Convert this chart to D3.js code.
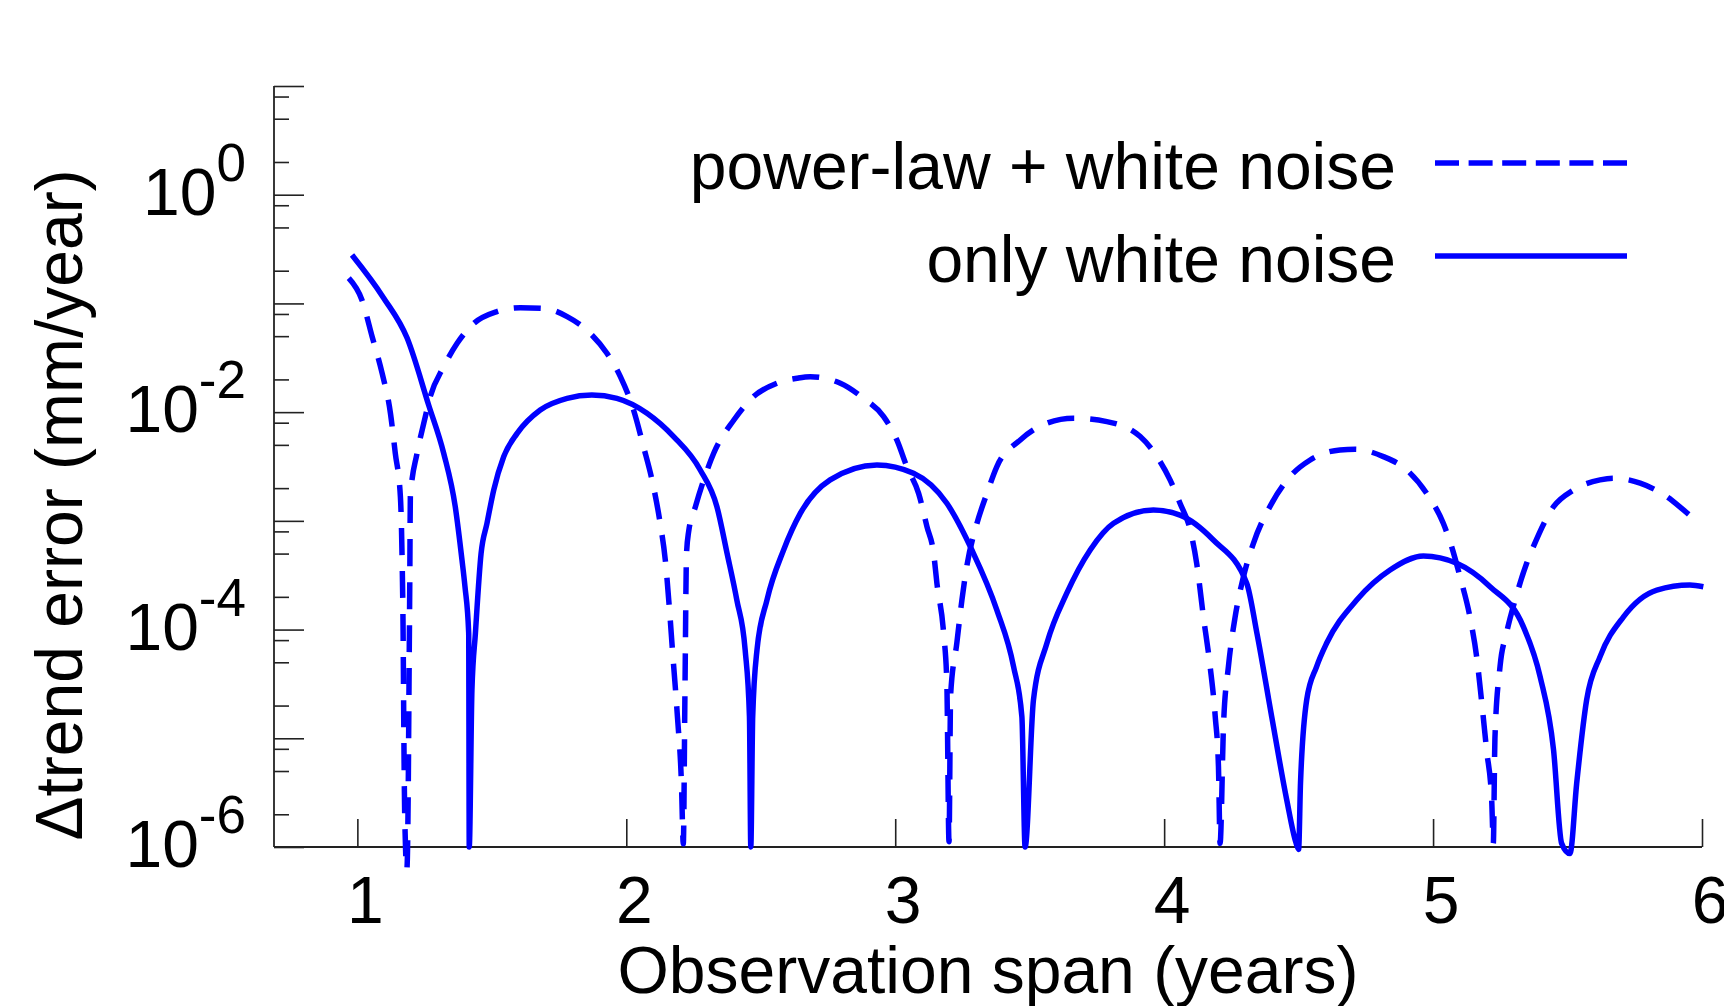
<!DOCTYPE html>
<html>
<head>
<meta charset="utf-8">
<script src="https://cdn.jsdelivr.net/npm/d3@7"></script>
<style>
  html, body { margin: 0; padding: 0; background: #fff; }
  svg { display: block; }
  text { font-family: "Liberation Sans", Arial, Helvetica, sans-serif; fill: #000; }
</style>
</head>
<body>
<svg id="chart" width="1724" height="1006"></svg>
<script>
// ---- data (x: observation span in years, y: Δtrend error in mm/year) ----
const seriesNames = ["power-law + white noise", "only white noise"];

const plwX = [0.968, 1.017, 1.055, 1.092, 1.123, 1.141, 1.160, 1.166, 1.170, 1.173, 1.176, 1.184, 1.189, 1.192, 1.195, 1.197,
  1.222, 1.247, 1.271, 1.321, 1.371, 1.433, 1.519, 1.606, 1.693, 1.780, 1.866, 1.928, 1.978, 2.027, 2.064, 2.101, 2.126, 2.145,
  2.160, 2.172, 2.190, 2.205, 2.212, 2.218, 2.224, 2.232, 2.257, 2.288, 2.325, 2.400, 2.473, 2.560, 2.635, 2.684, 2.796, 2.882,
  2.957, 3.006, 3.043, 3.087, 3.118, 3.143, 3.155, 3.180, 3.192, 3.200, 3.206, 3.229, 3.248, 3.266, 3.304, 3.341, 3.378, 3.465,
  3.564, 3.663, 3.787, 3.911, 3.973, 4.022, 4.059, 4.097, 4.121, 4.146, 4.171, 4.190, 4.202, 4.208, 4.221, 4.239, 4.264, 4.295,
  4.332, 4.400, 4.468, 4.543, 4.654, 4.710, 4.815, 4.902, 4.976, 5.038, 5.069, 5.100, 5.137, 5.162, 5.180, 5.199, 5.218, 5.224,
  5.230, 5.249, 5.273, 5.305, 5.348, 5.373, 5.448, 5.522, 5.621, 5.671, 5.770, 5.869, 5.931, 5.990];
const plwY = [0.1706, 0.1076, 0.0494, 0.0228, 9.77e-3, 4.19e-3, 1.67e-3, 5.0e-4, 1.0e-4, 1.0e-5, 2.0e-6, 6.2e-7, 3.0e-6, 3.0e-5, 3.0e-4, 1.67e-3,
  4.19e-3, 7.91e-3, 0.0139, 0.0262, 0.043, 0.0655, 0.0841, 0.0914, 0.0902, 0.0757, 0.0531, 0.0348, 0.0212, 0.01047, 4.82e-3, 2.07e-3, 9.5e-4, 4.37e-4,
  1.6e-4, 6.3e-5, 1.6e-5, 3.9e-6, 1.07e-6, 2.5e-5, 5.0e-4, 8.0e-4, 1.35e-3, 2.38e-3, 4.19e-3, 8.47e-3, 0.0139, 0.01845, 0.0205, 0.0212, 0.01845, 0.0134,
  9.1e-3, 5.55e-3, 3.16e-3, 1.79e-3, 8.85e-4, 5.0e-4, 2.67e-4, 9.25e-5, 3.2e-5, 1.12e-6, 2.5e-5, 7.48e-5, 1.87e-4, 3.8e-4, 9.5e-4, 1.79e-3, 3.16e-3, 5.55e-3,
  7.91e-3, 8.79e-3, 8.18e-3, 5.96e-3, 3.9e-3, 2.38e-3, 1.45e-3, 8.24e-4, 4.07e-4, 1.31e-4, 4.57e-5, 1.58e-5, 5.47e-6, 1.08e-6, 1.37e-5, 4.57e-5, 1.31e-4, 3.07e-4,
  6.22e-4, 1.45e-3, 2.55e-3, 3.63e-3, 4.49e-3, 4.55e-3, 3.9e-3, 2.94e-3, 1.79e-3, 9.5e-4, 5.79e-4, 3.07e-4, 1.31e-4, 5.64e-5, 2.25e-5, 7.8e-6, 2.7e-6, 1.08e-6,
  1.0e-5, 4.57e-5, 9.25e-5, 1.87e-4, 4.07e-4, 5.79e-4, 1.35e-3, 1.92e-3, 2.38e-3, 2.47e-3, 2.22e-3, 1.67e-3, 1.26e-3, 9.5e-4];

const wnX = [0.980, 1.097, 1.185, 1.265, 1.321, 1.364, 1.389, 1.400, 1.414, 1.416, 1.426, 1.439, 1.460, 1.482, 1.507, 1.544,
  1.594, 1.680, 1.780, 1.872, 1.965, 2.077, 2.176, 2.275, 2.337, 2.375, 2.411, 2.442, 2.458, 2.463, 2.470, 2.486, 2.523, 2.585,
  2.647, 2.758, 2.932, 3.068, 3.192, 3.285, 3.378, 3.440, 3.471, 3.483, 3.514, 3.564, 3.638, 3.725, 3.812, 3.960, 4.059, 4.183,
  4.307, 4.345, 4.400, 4.456, 4.490, 4.500, 4.507, 4.530, 4.567, 4.604, 4.716, 4.840, 4.964, 5.088, 5.212, 5.336, 5.398, 5.448,
  5.478, 5.509, 5.534, 5.571, 5.621, 5.708, 5.832, 5.955, 6.005];
const wnY = [0.279, 0.113, 0.048, 0.01164, 4.19e-3, 1.35e-3, 4.37e-4, 2.5e-4, 9.25e-5, 1.0e-6, 2.78e-5, 9.3e-5, 5.0e-4, 9.5e-4, 1.92e-3, 3.89e-3,
  6.38e-3, 0.01047, 0.0134, 0.0144, 0.0134, 9.77e-3, 5.96e-3, 2.94e-3, 1.35e-3, 5.0e-4, 1.87e-4, 6.49e-5, 1.58e-5, 1.0e-6, 1.58e-5, 6.49e-5, 1.87e-4, 5.4e-4,
  1.17e-3, 2.38e-3, 3.27e-3, 2.74e-3, 1.45e-3, 5.4e-4, 1.51e-4, 4.57e-5, 1.58e-5, 1.0e-6, 2.25e-5, 7.48e-5, 2.16e-4, 5.4e-4, 9.5e-4, 1.26e-3, 1.13e-3, 6.67e-4,
  2.67e-4, 9.25e-5, 1.58e-5, 2.7e-6, 1.1e-6, 0.95e-6, 3.85e-6, 2.25e-5, 4.57e-5, 7.48e-5, 1.87e-4, 3.53e-4, 4.75e-4, 4.07e-4, 2.48e-4, 1.06e-4, 3.69e-5, 7.8e-6,
  1.08e-6, 8.7e-7, 3.85e-6, 2.25e-5, 5.64e-5, 1.31e-4, 2.31e-4, 2.57e-4, 2.48e-4];

const xTickValues = [1, 2, 3, 4, 5, 6];
const yMajorExponents = [-6, -5, -4, -3, -2, -1, 0, 1];
const yLabelExponents = [-6, -4, -2, 0];
const yMinorMantissas = [2, 5, 8];

const xTitle = "Observation span (years)";
const yTitle = "\u0394trend error (mm/year)";

// ---- layout ----
const svg = d3.select("#chart");
const FONT = 66;
const plotLeft = 274, plotRight = 1702, plotTop = 86, plotBottom = 847;

const x = d3.scaleLinear().domain([0.69, 6]).range([plotLeft, plotRight]);
const y = d3.scaleLog().domain([1e-6, 10]).range([plotBottom, plotTop]);

const axisColor = "#222";

// y axis (ticks inward)
const yMajor = yMajorExponents.map(e => Math.pow(10, e));
const yMinor = [];
yMajorExponents.slice(0, -1).forEach(e => yMinorMantissas.forEach(m => yMinor.push(m * Math.pow(10, e))));

const yAxisMajor = d3.axisRight(y).tickValues(yMajor).tickSize(30).tickFormat("");
const yAxisMinor = d3.axisRight(y).tickValues(yMinor).tickSize(15).tickFormat("");
const gyMinor = svg.append("g").attr("transform", `translate(${plotLeft},0)`).call(yAxisMinor);
const gyMajor = svg.append("g").attr("transform", `translate(${plotLeft},0)`).call(yAxisMajor);
[gyMinor, gyMajor].forEach(g => {
  g.select(".domain").remove();
  g.selectAll("line").attr("stroke", axisColor).attr("stroke-width", 1.6);
});
svg.append("line").attr("x1", plotLeft).attr("x2", plotLeft).attr("y1", y(10)).attr("y2", plotBottom)
  .attr("stroke", axisColor).attr("stroke-width", 1.8);

// x axis (ticks inward)
const xAxis = d3.axisTop(x).tickValues(xTickValues).tickSize(28).tickFormat("");
const gx = svg.append("g").attr("transform", `translate(0,${plotBottom})`).call(xAxis);
gx.select(".domain").remove();
gx.selectAll("line").attr("stroke", axisColor).attr("stroke-width", 1.6);
svg.append("line").attr("x1", plotLeft).attr("x2", plotRight).attr("y1", plotBottom).attr("y2", plotBottom)
  .attr("stroke", axisColor).attr("stroke-width", 1.8);

// x tick labels
svg.append("g").selectAll("text").data(xTickValues).join("text")
  .attr("x", d => x(d) + 8).attr("y", 923)
  .attr("text-anchor", "middle").attr("font-size", FONT)
  .text(d => d);

// y tick labels 10^n
const yl = svg.append("g").selectAll("text").data(yLabelExponents).join("text")
  .attr("x", 246).attr("y", d => y(Math.pow(10, d)) + 20)
  .attr("text-anchor", "end").attr("font-size", FONT);
yl.append("tspan").text("10");
yl.append("tspan").attr("dy", -34).attr("font-size", 53).text(d => d === 0 ? "0" : "-" + Math.abs(d));

// axis titles
svg.append("text").attr("x", (plotLeft + plotRight) / 2).attr("y", 993)
  .attr("text-anchor", "middle").attr("font-size", FONT).text(xTitle);
svg.append("text").attr("transform", "translate(82,505) rotate(-90)")
  .attr("text-anchor", "middle").attr("font-size", FONT).text(yTitle);

// curves
const line = d3.line().x(d => x(d[0])).y(d => y(d[1])).curve(d3.curveMonotoneX);
const plwData = plwX.map((v, i) => [v, plwY[i]]);
const wnData = wnX.map((v, i) => [v, wnY[i]]);

svg.append("path").datum(wnData).attr("d", line)
  .attr("fill", "none").attr("stroke", "#0000ff").attr("stroke-width", 5.5)
  .attr("stroke-linejoin", "round");
svg.append("path").datum(plwData).attr("d", line)
  .attr("fill", "none").attr("stroke", "#0000ff").attr("stroke-width", 5.5)
  .attr("stroke-dasharray", "27,16");

// legend
const legend = svg.append("g");
const legY = [163, 256];
const legTextY = [189, 282];
legend.selectAll("text").data(seriesNames).join("text")
  .attr("x", 1396).attr("y", (d, i) => legTextY[i])
  .attr("text-anchor", "end").attr("font-size", FONT).text(d => d);
legend.selectAll("line").data(seriesNames).join("line")
  .attr("x1", 1435).attr("x2", 1627)
  .attr("y1", (d, i) => legY[i]).attr("y2", (d, i) => legY[i])
  .attr("stroke", "#0000ff").attr("stroke-width", 5.5)
  .attr("stroke-dasharray", (d, i) => i === 0 ? "24,9.6" : null);
</script>
</body>
</html>
